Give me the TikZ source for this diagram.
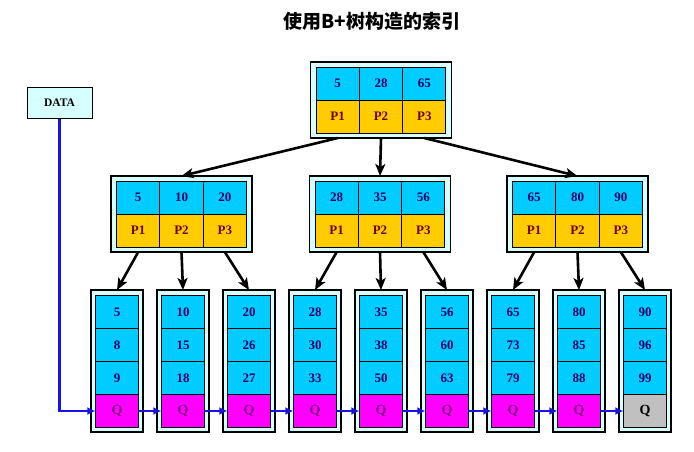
\documentclass[tikz,border=0pt]{standalone}
\usepackage{fontspec}
\setmainfont{Liberation Serif}
\newfontfamily\cjk{Noto Sans CJK SC}
\usetikzlibrary{arrows.meta}

\definecolor{keyblue}{RGB}{0,204,255}
\definecolor{ptryellow}{RGB}{255,204,0}
\definecolor{qmagenta}{RGB}{255,0,255}
\definecolor{qgray}{RGB}{192,192,192}
\definecolor{framefill}{RGB}{214,255,255}
\definecolor{numtext}{RGB}{0,0,102}
\definecolor{ptrtext}{RGB}{110,0,0}
\definecolor{qtext}{RGB}{128,0,128}
\definecolor{chainblue}{RGB}{20,20,230}

\begin{document}
\begin{tikzpicture}[x=1pt, y=-1pt,
  frame/.style  = {draw, line width=1.5pt, fill=framefill, inner sep=0pt, outer sep=0pt},
  cell/.style   = {draw, line width=1pt, inner sep=0pt, outer sep=0pt,
                   minimum width=43.3pt, minimum height=33pt,
                   font=\bfseries\fontsize{13}{13}\selectfont},
  key/.style    = {cell, fill=keyblue, text=numtext},
  ptr/.style    = {cell, fill=ptryellow, text=ptrtext},
  qbox/.style   = {cell, fill=qmagenta, text=qtext, font=\bfseries\fontsize{14}{14}\selectfont},
  qend/.style   = {qbox, fill=qgray, text=black},
                   % the last leaf has no next leaf: its Q is grey
  dbox/.style   = {draw, line width=1pt, fill=framefill, minimum width=65pt,
                   minimum height=31pt, font=\bfseries\fontsize{11.5}{11.5}\selectfont},
  down/.style   = {line width=2.6pt, -{Stealth[length=12pt,width=10pt,inset=3pt]}},
  chain/.style  = {line width=2.6pt, draw=chainblue, -{Latex[length=8pt,width=8pt]}},
  heading/.style = {font=\cjk\bfseries\fontsize{19}{19}\selectfont},
]
  \useasboundingbox (0,0) rectangle (694,451);

  \node[heading] (title) at (372,21) {使用B+树构造的索引};

  \node[dbox] (data) at (59.5,102.5) {DATA};

  % inner nodes: three keys over three pointers
  \foreach \nm/\x/\y/\ka/\kb/\kc in {r/381/100/5/28/65, n1/181.5/214/5/10/20,
                                     n2/380/214/28/35/56, n3/577.5/214/65/80/90}{
    \node[frame, minimum width=141pt, minimum height=76pt] (\nm) at (\x,\y) {};
    \node[key] (\nm-k1) at (\x-43.3,\y-16.5) {\ka};
    \node[key] (\nm-k2) at (\x,\y-16.5) {\kb};
    \node[key] (\nm-k3) at (\x+43.3,\y-16.5) {\kc};
    \node[ptr] (\nm-p1) at (\x-43.3,\y+16.5) {P1};
    \node[ptr] (\nm-p2) at (\x,\y+16.5) {P2};
    \node[ptr] (\nm-p3) at (\x+43.3,\y+16.5) {P3};
  }

  % leaves: three keys and the link Q
  \foreach \i/\x/\ka/\kb/\kc/\qs in {1/117/5/8/9/qbox, 2/183/10/15/18/qbox,
      3/249/20/26/27/qbox, 4/315/28/30/33/qbox, 5/381/35/38/50/qbox,
      6/447/56/60/63/qbox, 7/513/65/73/79/qbox, 8/579/80/85/88/qbox,
      9/645/90/96/99/qend}{
    \node[frame, minimum width=52pt, minimum height=142pt] (l\i) at (\x,361) {};
    \node[key] (l\i-k1) at (\x,312) {\ka};
    \node[key] (l\i-k2) at (\x,345) {\kb};
    \node[key] (l\i-k3) at (\x,378) {\kc};
    \node[\qs] (l\i-q) at (\x,411) {Q};
  }

  \draw[down] (r-p1 |- r.south) -- (n1.north);
  \draw[down] (r-p2 |- r.south) -- (n2.north);
  \draw[down] (r-p3 |- r.south) -- (n3.north);

  \foreach \n/\p/\l in {n1/p1/l1, n1/p2/l2, n1/p3/l3, n2/p1/l4, n2/p2/l5,
                        n2/p3/l6, n3/p1/l7, n3/p2/l8, n3/p3/l9}
    \draw[down] (\n-\p |- \n.south) -- (\l.north);

  % the leaf chain, entered from DATA
  \draw[chain] (data.south) |- (l1-q.west);
  \foreach \i [evaluate=\i as \j using int(\i+1)] in {1,...,8}
    \draw[chain] (l\i-q.east) -- (l\j-q.west);
\end{tikzpicture}
\end{document}
